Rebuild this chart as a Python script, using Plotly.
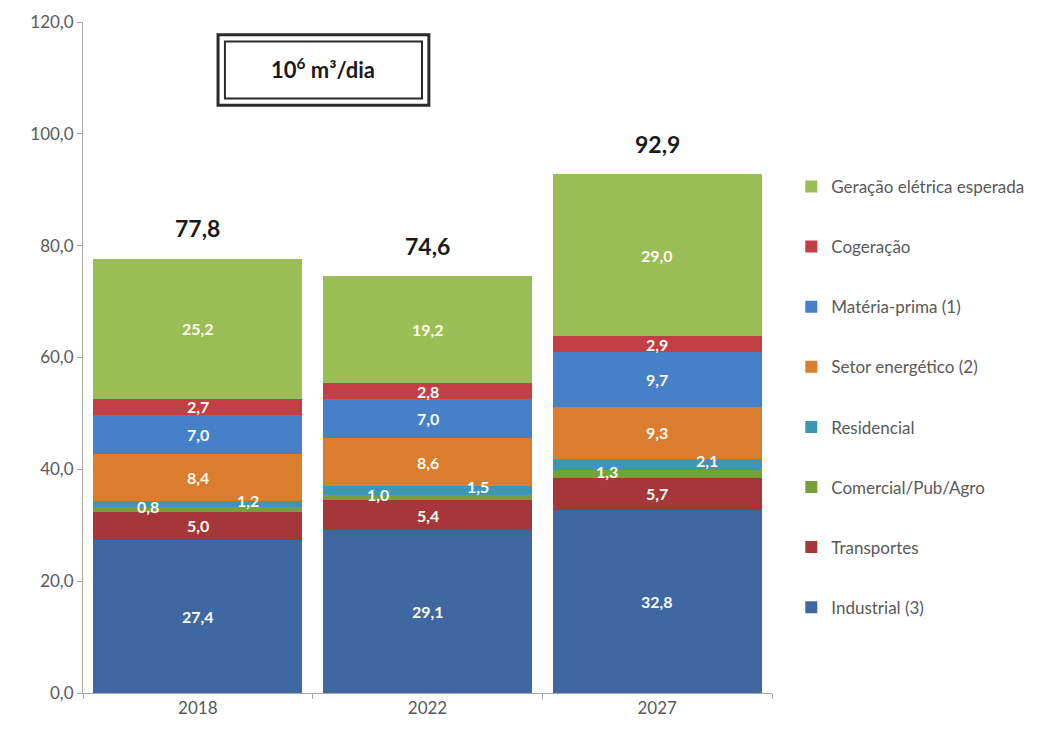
import plotly.graph_objects as go

# Natural gas demand by sector (10^6 m3/day)
years = ["2018", "2022", "2027"]
sectors = [
    "Industrial (3)",
    "Transportes",
    "Comercial/Pub/Agro",
    "Residencial",
    "Setor energético (2)",
    "Matéria-prima (1)",
    "Cogeração",
    "Geração elétrica esperada",
]
industrial = [27.4, 29.1, 32.8]
transportes = [5.0, 5.4, 5.7]
comercial = [0.8, 1.0, 1.3]
residencial = [1.2, 1.5, 2.1]
setor_energetico = [8.4, 8.6, 9.3]
materia_prima = [7.0, 7.0, 9.7]
cogeracao = [2.7, 2.8, 2.9]
geracao = [25.2, 19.2, 29.0]
totals = [77.8, 74.6, 92.9]

series = [industrial, transportes, comercial, residencial,
          setor_energetico, materia_prima, cogeracao, geracao]
colors = ["#3F67A1", "#A5363A", "#77A03A", "#3C97B4",
          "#DC7D2E", "#4680C8", "#C43E46", "#9BBD55"]

FONT = "Lato"
GREY = "#595959"

fig = go.Figure()
n = len(series)
for i, (name, vals, col) in enumerate(zip(sectors, series, colors)):
    fig.add_trace(go.Bar(
        x=years, y=vals, name=name, legendgroup=name,
        legendrank=100 * (n - i),
        marker=dict(color=col, line=dict(width=0)),
        hoverinfo="x+y+name",
    ))

annotations = []
# segment value labels; the two thin stripes get side-shifted labels
side_shift = {2: (-50, 3), 3: (50, 4)}
for j, yr in enumerate(years):
    base = 0.0
    for i, vals in enumerate(series):
        v = vals[j]
        mid = base + v / 2
        dx, dy = side_shift.get(i, (0, 0))
        annotations.append(dict(
            x=j, y=mid, text=f"{v:.1f}".replace(".", ","),
            showarrow=False, xshift=dx, yshift=dy,
            xanchor="center", yanchor="middle",
            font=dict(family=FONT, size=16, color="#fbfbf2", weight="bold"),
        ))
        base += v
    annotations.append(dict(
        x=j, y=totals[j], text=f"{totals[j]:.1f}".replace(".", ","),
        showarrow=False, xanchor="center", yanchor="bottom", yshift=14,
        font=dict(family=FONT, size=23, color="#1a1a1a", weight="bold"),
    ))

# unit caption inside a double-ruled box
annotations.append(dict(
    xref="paper", yref="paper", x=0.349, y=0.930,
    xanchor="center", yanchor="middle",
    text="10<sup>6</sup> m³/dia", showarrow=False,
    font=dict(family=FONT, size=22, color="#1a1a1a", weight="bold"),
))
shapes = [
    dict(type="rect", xref="paper", yref="paper",
         x0=0.196, x1=0.502, y0=0.876, y1=0.981,
         line=dict(color="#2b2b2b", width=3), fillcolor="white", layer="below"),
    dict(type="rect", xref="paper", yref="paper",
         x0=0.206, x1=0.492, y0=0.886, y1=0.971,
         line=dict(color="#2b2b2b", width=2), fillcolor="rgba(0,0,0,0)", layer="below"),
]

fig.update_layout(
    width=1043, height=730,
    barmode="stack", bargap=0.09,
    separators=",.",
    plot_bgcolor="white", paper_bgcolor="white",
    margin=dict(l=83, r=271, t=22, b=37),
    font=dict(family=FONT, color=GREY, size=14),
    annotations=annotations, shapes=shapes,
    legend=dict(
        x=1.028, y=0.781, xanchor="left", yanchor="top",
        traceorder="grouped", tracegroupgap=35,
        font=dict(family=FONT, size=17, color=GREY),
        itemwidth=30, bgcolor="rgba(0,0,0,0)",
    ),
    xaxis=dict(
        type="category", range=[-0.5, 2.5],
        showline=True, linecolor="#A6A6A6", linewidth=1,
        ticks="outside", tickson="boundaries", ticklen=5, tickcolor="#A6A6A6",
        tickfont=dict(family=FONT, size=17, color=GREY),
        showgrid=False,
    ),
    yaxis=dict(
        range=[0, 120], dtick=20, tickformat=".1f",
        showline=True, linecolor="#A6A6A6", linewidth=1,
        ticks="outside", ticklen=5, tickcolor="#A6A6A6",
        tickfont=dict(family=FONT, size=17, color=GREY),
        showgrid=False, zeroline=False,
    ),
)

fig.write_html("out.html")
